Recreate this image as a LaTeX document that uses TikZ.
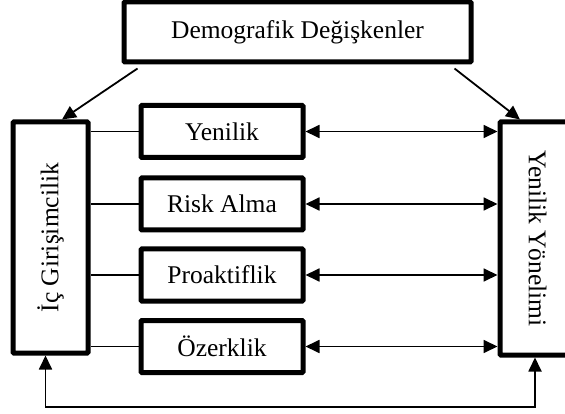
\documentclass[tikz,border=0pt]{standalone}
\usepackage{fontspec}
\setmainfont{Liberation Serif}
\usetikzlibrary{%
  arrows.meta,%
  positioning,%
  calc%
}
\tikzset{
  box/.style={draw,line width=5pt,inner sep=0pt,rounded corners=1pt},
  con/.style={line width=1.8pt},
}

\begin{document}
\begin{tikzpicture}[
  x=1pt,y=-1pt,
  font=\fontsize{25.5}{30}\selectfont,
  >={Triangle[length=14pt,width=13pt]},
  line width=1.8pt,
]
\useasboundingbox (0,0) rectangle (565,414);

\node[box,minimum width=347pt,minimum height=60pt] (dem) at (297.5,32) {Demografik Değişkenler};
\node[box,minimum width=75pt,minimum height=231pt] (ic) at (50.5,237.5) {};
\node[rotate=90] (ict) at (ic.center) {İç Girişimcilik};
\node[box,minimum width=75pt,minimum height=233pt] (yy) at (537.5,238.5) {};
\node[rotate=-90] (yyt) at (yy.center) {Yenilik Yönelimi};

% alt boyutlar
\foreach \n/\t/\y in {m1/Yenilik/131.5,m2/Risk Alma/204,m3/Proaktiflik/275,m4/Özerklik/346.5} {
  \node[box,minimum width=162pt,minimum height=52pt] (\n) at (222,\y) {\t};
  \draw[con] (\n.west) -- (\n.west -| ic.east);
  \draw[con,<->] (\n.east) -- (\n.east -| yy.west);
}

\draw[con,->] ([xshift=16pt,yshift=-4pt]dem.south west) -- ([xshift=11.5pt]ic.north);
\draw[con,->] ([xshift=-19pt,yshift=-4pt]dem.south east) -- ([xshift=-17.5pt]yy.north);

\coordinate (fb) at (0,407);
\draw[con,<->] ([xshift=-5pt]ic.south) -- ([xshift=-5pt]ic.south |- fb) -- ([xshift=-2.5pt]yy.south |- fb) -- ([xshift=-2.5pt]yy.south);
\end{tikzpicture}
\end{document}
